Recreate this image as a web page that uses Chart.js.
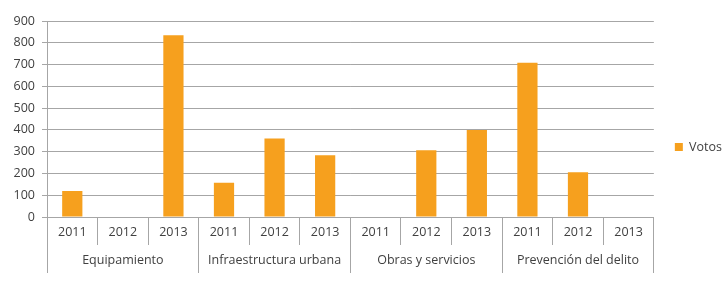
<!DOCTYPE html>
<html>
<head>
<meta charset="utf-8">
<script src="https://cdn.jsdelivr.net/npm/chart.js@4"></script>
<style>
  html, body { margin: 0; padding: 0; background: #fff; }
  #wrap { width: 728px; height: 284px; }
</style>
</head>
<body>
<div id="wrap"><canvas id="votosChart" width="728" height="284"></canvas></div>
<script>
const years = ['2011', '2012', '2013', '2011', '2012', '2013', '2011', '2012', '2013', '2011', '2012', '2013'];
const groups = ['Equipamiento', 'Infraestructura urbana', 'Obras y servicios', 'Prevención del delito'];
const votos = [119, 0, 835, 157, 361, 283, 0, 307, 400, 708, 206, 0];
const yTicks = [0, 100, 200, 300, 400, 500, 600, 700, 800, 900];

const lineColor = '#a6a6a6';
const textColor = '#404040';
const font = { family: 'Open Sans', size: 12.5 };

function createVotosChart() {
  const ctx = document.getElementById('votosChart').getContext('2d');
  new Chart(ctx, {
    type: 'bar',
    data: {
      labels: years,
      datasets: [{
        label: 'Votos',
        data: votos,
        backgroundColor: '#f6a01e',
        barPercentage: 0.4,
        categoryPercentage: 1.0
      }]
    },
    options: {
      responsive: false,
      animation: false,
      layout: { padding: { top: 21, right: -4, bottom: 11, left: 0 } },
      plugins: {
        tooltip: { enabled: false },
        legend: {
          position: 'right',
          labels: {
            boxWidth: 8,
            boxHeight: 8,
            padding: 21,
            color: textColor,
            font: font
          }
        }
      },
      scales: {
        x: {
          type: 'category',
          position: 'bottom',
          grid: {
            offset: true,
            drawOnChartArea: false,
            tickLength: 28,
            color: lineColor
          },
          border: { color: lineColor },
          ticks: { color: textColor, font: font, padding: -20, maxRotation: 0, autoSkip: false },
          afterFit: scale => { scale.height = 28; }
        },
        x2: {
          type: 'category',
          position: 'bottom',
          labels: groups,
          grid: {
            offset: true,
            drawOnChartArea: false,
            tickLength: 28,
            color: lineColor
          },
          border: { display: false },
          ticks: { color: textColor, font: font, padding: -20, maxRotation: 0, autoSkip: false },
          afterFit: scale => { scale.height = 28; }
        },
        y: {
          min: 0,
          max: 900,
          afterBuildTicks: scale => { scale.ticks = yTicks.map(v => ({ value: v })); },
          grid: { color: lineColor, tickLength: 5 },
          border: { color: lineColor },
          ticks: { color: textColor, font: font, padding: 7 },
          afterFit: scale => { scale.width = 47; }
        }
      }
    }
  });
}

document.addEventListener('DOMContentLoaded', createVotosChart);
</script>
</body>
</html>
